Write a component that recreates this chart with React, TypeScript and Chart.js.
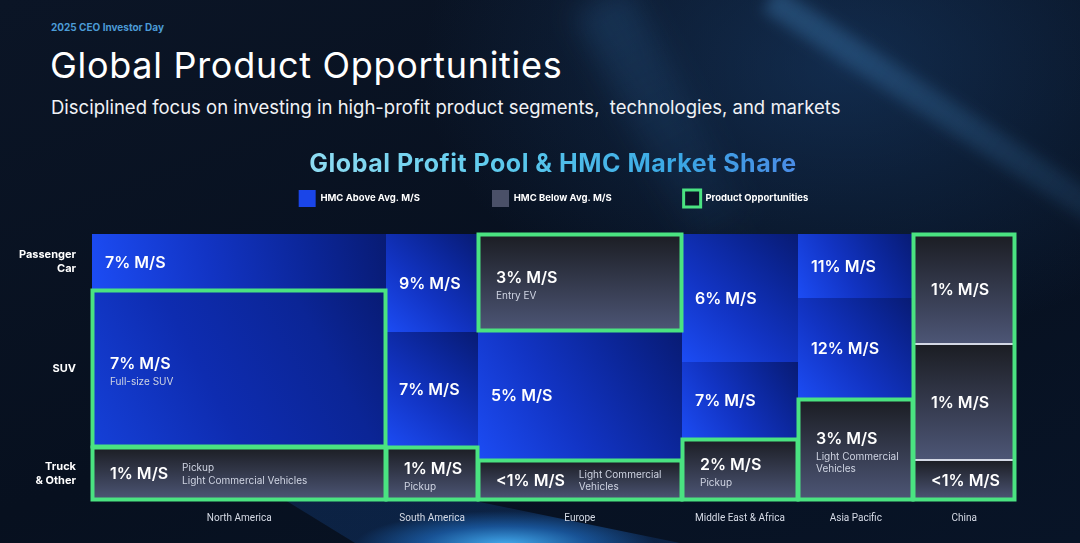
import React, { useEffect, useRef } from 'react';
import { Chart, registerables } from 'chart.js';

Chart.register(...registerables);

const regions = ['North America', 'South America', 'Europe', 'Middle East & Africa', 'Asia Pacific', 'China'];
const profitPoolShare = [31.9, 9.9, 22.1, 12.6, 12.5, 11.0];
const segmentLabels = [['Passenger', 'Car'], ['SUV'], ['Truck', '& Other']];
const passengerCarShare = [21, 37, 36.5, 48, 24, 41.5];
const suvShare = [59, 43, 48.5, 29, 38, 43.5];
const truckShare = [20, 20, 15, 23, 38, 15];
const passengerCarMS = ['7%', '9%', '3%', '6%', '11%', '1%'];
const suvMS = ['7%', '7%', '5%', '7%', '12%', '1%'];
const truckMS = ['1%', '1%', '<1%', '2%', '3%', '<1%'];
const passengerCarAbove = [true, true, false, true, true, false];
const suvAbove = [true, true, true, true, true, false];
const truckAbove = [false, false, false, false, false, false];
const passengerCarOpp = [false, false, true, false, false, true];
const suvOpp = [true, false, false, false, false, true];
const truckOpp = [true, true, true, true, true, true];
const passengerCarNote = [[], [], ['Entry EV'], [], [], []];
const suvNote = [['Full-size SUV'], [], [], [], [], []];
const truckNote = [
  ['Pickup', 'Light Commercial Vehicles'],
  ['Pickup'],
  ['Light Commercial', 'Vehicles'],
  ['Pickup'],
  ['Light Commercial', 'Vehicles'],
  [],
];
const legendLabels = ['HMC Above Avg. M/S', 'HMC Below Avg. M/S', 'Product Opportunities'];

const GREEN = '#4ae381';
const FONT = 'Inter, "Open Sans", sans-serif';

const shares = [passengerCarShare, suvShare, truckShare];
const msLabels = [passengerCarMS, suvMS, truckMS];
const above = [passengerCarAbove, suvAbove, truckAbove];
const opps = [passengerCarOpp, suvOpp, truckOpp];
const notes = [passengerCarNote, suvNote, truckNote];

function cumulativeCenters(vals: number[]) {
  const out: number[] = [];
  let acc = 0;
  vals.forEach((v) => {
    out.push(acc + v / 2);
    acc += v;
  });
  return out;
}

const marimekkoPlugin = {
  id: 'marimekko',
  beforeDatasetsDraw(chart: any) {
    const { ctx } = chart;
    const xS = chart.scales.x;
    const yS = chart.scales.y;
    type Cell = { x0: number; x1: number; y0: number; y1: number; c: number; s: number };
    const cells: Cell[] = [];
    let xs = 0;
    regions.forEach((_, c) => {
      const x0 = Math.round(xS.getPixelForValue(xs));
      const x1 = Math.round(xS.getPixelForValue(xs + profitPoolShare[c]));
      let ys = 0;
      for (let s = 0; s < 3; s++) {
        const y0 = Math.round(yS.getPixelForValue(ys));
        const y1 = Math.round(yS.getPixelForValue(ys + shares[s][c]));
        cells.push({ x0, x1, y0, y1, c, s });
        ys += shares[s][c];
      }
      xs += profitPoolShare[c];
    });

    ctx.save();
    cells.forEach(({ x0, x1, y0, y1, c, s }) => {
      let g;
      if (above[s][c]) {
        const big = (x1 - x0) * (y1 - y0) > 30000;
        g = ctx.createLinearGradient(x0, y1, x1, y0);
        g.addColorStop(0, big ? '#1540d8' : '#1c4cf4');
        g.addColorStop(0.4, big ? '#0e2cb0' : '#1234c4');
        g.addColorStop(0.75, '#0b2596');
        g.addColorStop(1, '#081b74');
      } else {
        g = ctx.createLinearGradient(0, y0, 0, y1);
        g.addColorStop(0, '#1b1d23');
        g.addColorStop(1, '#4d5676');
      }
      ctx.fillStyle = g;
      ctx.fillRect(x0, y0, x1 - x0, y1 - y0);
    });

    const fullCols = regions.map((_, c) => opps.every((o) => o[c]));
    cells.forEach(({ x0, x1, y0, c, s }) => {
      if (fullCols[c] && s > 0) {
        ctx.strokeStyle = '#d3d8e4';
        ctx.lineWidth = 2;
        ctx.beginPath();
        ctx.moveTo(x0 + 2, y0);
        ctx.lineTo(x1 - 2, y0);
        ctx.stroke();
      }
    });

    ctx.strokeStyle = GREEN;
    ctx.lineWidth = 4;
    cells.forEach(({ x0, x1, y0, y1, c, s }) => {
      if (!fullCols[c] && opps[s][c]) {
        ctx.strokeRect(x0 + 0.5, y0 + 0.5, x1 - x0 - 1, y1 - y0 - 1);
      }
    });
    regions.forEach((_, c) => {
      if (!fullCols[c]) return;
      const colCells = cells.filter((k) => k.c === c);
      const x0 = colCells[0].x0, x1 = colCells[0].x1;
      const y0 = colCells[0].y0, y1 = colCells[2].y1;
      ctx.strokeRect(x0 + 0.5, y0 + 0.5, x1 - x0 - 1, y1 - y0 - 1);
    });

    ctx.textBaseline = 'middle';
    ctx.textAlign = 'left';
    cells.forEach(({ x0, x1, y0, y1, c, s }) => {
      const isOpp = opps[s][c] || fullCols[c];
      const lx = x0 + (isOpp ? 18 : 13);
      const cy = (y0 + y1) / 2;
      const main = msLabels[s][c] + ' M/S';
      const note = notes[s][c];
      ctx.font = `600 16px ${FONT}`;
      ctx.fillStyle = '#ffffff';
      if (note.length === 0) {
        ctx.fillText(main, lx, cy + 1);
        return;
      }
      if (note.length > 1 && x1 - x0 > 180) {
        ctx.fillText(main, lx, cy + 1);
        const mw = ctx.measureText(main).width;
        ctx.font = `10px ${FONT}`;
        ctx.fillStyle = '#cfd4e2';
        const n = note.length;
        note.forEach((t, i) => {
          ctx.fillText(t, lx + mw + 14, cy + 1 + (i - (n - 1) / 2) * 12.5);
        });
        return;
      }
      const span = 18 + 12 * (note.length - 1);
      const my = cy - span / 2 + 4.5;
      ctx.fillText(main, lx, my);
      ctx.font = `10px ${FONT}`;
      ctx.fillStyle = '#cfd4e2';
      note.forEach((t, i) => {
        ctx.fillText(t, lx, my + 18 + i * 12);
      });
    });
    ctx.restore();
  },
};

export default function App() {
  const canvasRef = useRef<HTMLCanvasElement | null>(null);

  useEffect(() => {
    const canvas = canvasRef.current;
    if (!canvas) return;
    const xCenters = cumulativeCenters(profitPoolShare);
    const yCenters = cumulativeCenters(shares.map((arr) => arr[0]));

    const chart = new Chart(canvas, {
      type: 'scatter',
      data: { datasets: [{ label: 'cells', data: [] }] },
      plugins: [marimekkoPlugin],
      options: {
        animation: false,
        responsive: false,
        events: [],
        layout: { padding: { left: 0, right: 65, top: 0, bottom: 0 } },
        plugins: {
          tooltip: { enabled: false },
          title: { display: false },
          legend: {
            display: true,
            position: 'top',
            fullSize: false,
            align: 'center',
            labels: {
              boxWidth: 17,
              boxHeight: 17,
              padding: 72,
              color: '#ffffff',
              font: { family: FONT, size: 9.5, weight: 'bold' },
              generateLabels: () => [
                { text: legendLabels[0], fillStyle: '#1a45e8', strokeStyle: '#1a45e8', fontColor: '#ffffff', lineWidth: 0, hidden: false, datasetIndex: 0 },
                { text: legendLabels[1], fillStyle: '#4a5068', strokeStyle: '#4a5068', fontColor: '#ffffff', lineWidth: 0, hidden: false, datasetIndex: 0 },
                { text: legendLabels[2], fillStyle: '#0b1526', strokeStyle: GREEN, fontColor: '#ffffff', lineWidth: 3, hidden: false, datasetIndex: 0 },
              ],
            },
          },
        },
        scales: {
          x: {
            type: 'linear',
            position: 'bottom',
            min: 0,
            max: 100,
            grid: { display: false, drawTicks: false },
            border: { display: false },
            afterBuildTicks: (scale: any) => {
              scale.ticks = xCenters.map((v) => ({ value: v }));
            },
            afterFit: (scale: any) => {
              scale.height = 43;
            },
            ticks: {
              autoSkip: false,
              maxRotation: 0,
              padding: 12,
              color: '#d6dbe6',
              font: { family: 'Roboto, sans-serif', size: 10 },
              callback: (_v: any, i: number) => regions[i],
            },
          },
          xTop: {
            type: 'linear',
            axis: 'x',
            position: 'top',
            display: true,
            grid: { display: false, drawTicks: false },
            border: { display: false },
            ticks: { display: false },
            afterFit: (scale: any) => {
              scale.height = 17;
            },
          },
          y: {
            type: 'linear',
            reverse: true,
            min: 0,
            max: 100,
            grid: { display: false, drawTicks: false },
            border: { display: false },
            afterBuildTicks: (scale: any) => {
              scale.ticks = yCenters.map((v) => ({ value: v }));
            },
            afterFit: (scale: any) => {
              scale.width = 92;
            },
            ticks: {
              autoSkip: false,
              padding: 16,
              color: '#ffffff',
              font: { family: FONT, size: 11, weight: 'bold', lineHeight: 1.27 },
              callback: (_v: any, i: number) => segmentLabels[i],
            },
          },
        },
      } as any,
    });
    return () => chart.destroy();
  }, []);

  const beam = (extra: React.CSSProperties): React.CSSProperties => ({
    position: 'absolute',
    transformOrigin: '0 50%',
    pointerEvents: 'none',
    ...extra,
  });

  return (
    <div
      style={{
        position: 'fixed',
        left: 0,
        top: 0,
        width: 1080,
        height: 543,
        overflow: 'hidden',
        background:
          'radial-gradient(ellipse 420px 280px at 78% 12%, rgba(30,75,130,0.45), rgba(0,0,0,0) 100%),' +
          'linear-gradient(160deg, #0b1526 0%, #07101f 55%, #081427 100%)',
        fontFamily: FONT,
      }}
    >
      <div style={beam({ left: 770, top: -15, width: 420, height: 28, transform: 'rotate(33deg)', background: 'linear-gradient(90deg, rgba(70,140,200,0.35), rgba(70,140,200,0.12))', filter: 'blur(7px)' })} />
      <div style={beam({ left: 600, top: -30, width: 260, height: 60, transform: 'rotate(62deg)', background: 'linear-gradient(90deg, rgba(50,110,170,0.25), rgba(50,110,170,0.05))', filter: 'blur(14px)' })} />
      <div
        style={{
          position: 'absolute',
          left: 0,
          top: 0,
          width: 1080,
          height: 543,
          clipPath: 'polygon(285px 500px, 470px 500px, 680px 543px, 355px 543px)',
          background:
            'radial-gradient(ellipse 150px 34px at 505px 545px, rgba(70,180,250,0.95), rgba(35,125,225,0.6) 55%, rgba(25,85,170,0.25) 100%)',
          pointerEvents: 'none',
        }}
      />
      <div style={{ position: 'absolute', left: 51, top: 21.5, fontSize: 10, lineHeight: '10px', fontWeight: 700, color: '#4b9bd6', whiteSpace: 'nowrap' }}>
        2025 CEO Investor Day
      </div>
      <div style={{ position: 'absolute', left: 50, top: 47, fontSize: 36, lineHeight: '36px', letterSpacing: 0.7, color: '#ffffff', whiteSpace: 'nowrap' }}>
        Global Product Opportunities
      </div>
      <div style={{ position: 'absolute', left: 51, top: 97.5, fontSize: 18.5, lineHeight: '18.5px', color: '#f0f2f6', whiteSpace: 'nowrap' }}>
        Disciplined focus on investing in high-profit product segments,&nbsp; technologies, and markets
      </div>
      <div
        style={{
          position: 'absolute',
          left: 553,
          top: 151,
          transform: 'translateX(-50%)',
          fontSize: 25,
          lineHeight: '25px',
          letterSpacing: 0.5,
          fontWeight: 700,
          whiteSpace: 'nowrap',
          background: 'linear-gradient(90deg, #8fdcf2 0%, #5ccaed 40%, #3aa8e4 75%, #4a8ce6 100%)',
          WebkitBackgroundClip: 'text',
          backgroundClip: 'text',
          WebkitTextFillColor: 'transparent',
          color: 'transparent',
        }}
      >
        Global Profit Pool &amp; HMC Market Share
      </div>
      <canvas
        ref={canvasRef}
        width={1080}
        height={425}
        style={{ position: 'absolute', left: 0, top: 118, width: 1080, height: 425, display: 'block' }}
      />
    </div>
  );
}
